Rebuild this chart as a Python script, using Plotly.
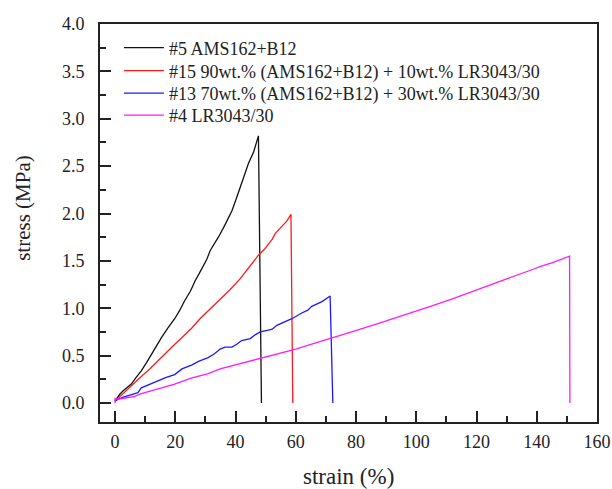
import plotly.graph_objects as go

# ---- data ----
s5_x = [0, 0.4, 1.5, 2.7, 4.0, 5.4, 7.0, 8.7, 10.5, 12.1, 14.0, 15.4, 17.5, 19.8, 21.5, 23.1, 25.0, 26.6,
        28.5, 30.5, 31.6, 33.0, 34.3, 36.5, 38.8, 40.5, 42.6, 44.3, 46.0, 47.6, 48.6]
s5_y = [0.02, 0.04, 0.09, 0.13, 0.16, 0.20, 0.27, 0.34, 0.43, 0.52, 0.62, 0.69, 0.79, 0.89, 0.98, 1.08, 1.18, 1.29,
        1.40, 1.52, 1.61, 1.68, 1.75, 1.88, 2.03, 2.18, 2.38, 2.53, 2.65, 2.82, 0.0]

s15_x = [0, 1.0, 2.1, 4.3, 6.5, 8.7, 11.5, 14.3, 17.0, 19.5, 22.5, 25.4, 28.2, 30.9, 33.0, 34.9, 38.0, 41.5,
         43.2, 45.5, 47.6, 49.5, 50.9, 52.2, 53.2, 55.4, 57.0, 58.4, 59.0]
s15_y = [0.02, 0.05, 0.09, 0.15, 0.22, 0.28, 0.36, 0.45, 0.54, 0.61, 0.70, 0.79, 0.89, 0.97, 1.04, 1.09, 1.19, 1.31,
         1.38, 1.47, 1.56, 1.62, 1.68, 1.73, 1.79, 1.86, 1.92, 1.99, 0.0]

s13_x = [0, 1.0, 2.5, 4.3, 6.0, 7.6, 8.7, 11.0, 14.3, 17.0, 19.8, 22.2, 25.4, 27.7, 30.9, 33.0, 34.9, 36.5,
         38.8, 40.4, 42.0, 43.2, 44.9, 46.5, 48.2, 50.9, 52.2, 53.7, 56.0, 58.7, 62.0, 64.0, 65.3, 68.7, 71.4, 72.3]
s13_y = [0.02, 0.04, 0.06, 0.08, 0.10, 0.11, 0.16, 0.19, 0.24, 0.27, 0.30, 0.36, 0.40, 0.44, 0.48, 0.52, 0.57, 0.59,
         0.59, 0.62, 0.66, 0.67, 0.68, 0.72, 0.75, 0.77, 0.78, 0.82, 0.85, 0.89, 0.95, 0.98, 1.02, 1.07, 1.13, 0.0]

s4_x = [0, 0, 1, 3, 6.5, 8.7, 14, 19.8, 25, 30.9, 34.9, 41, 48.2, 50.9, 54.8, 60, 65, 71.4, 78, 88, 98,
        104.7, 112, 121.3, 130, 139.5, 141, 145, 150.9, 151.0]
s4_y = [0.0, 0.05, 0.04, 0.05, 0.07, 0.10, 0.15, 0.20, 0.26, 0.31, 0.36, 0.41, 0.47, 0.49, 0.52, 0.57, 0.62, 0.68,
        0.745, 0.845, 0.945, 1.02, 1.10, 1.205, 1.31, 1.42, 1.44, 1.48, 1.55, 0.0]

names = ["#5 AMS162+B12",
         "#15 90wt.% (AMS162+B12) + 10wt.% LR3043/30",
         "#13 70wt.% (AMS162+B12) + 30wt.% LR3043/30",
         "#4 LR3043/30"]
colors = ["#111111", "#ff1a1a", "#1a1aff", "#ff1aff"]
xs = [s5_x, s15_x, s13_x, s4_x]
ys = [s5_y, s15_y, s13_y, s4_y]

x_ticks = [0, 20, 40, 60, 80, 100, 120, 140, 160]
y_ticks = [0.0, 0.5, 1.0, 1.5, 2.0, 2.5, 3.0, 3.5, 4.0]

FONT = "Liberation Serif, Times New Roman, serif"
INK = "#222222"

# one legend box per entry so the row spacing can follow the reference
legend_ids = ["legend", "legend2", "legend3", "legend4"]
legend_rows_y = [0.9397, 0.8819, 0.8254, 0.7701]

fig = go.Figure()
for x, y, n, c, lg in zip(xs, ys, names, colors, legend_ids):
    fig.add_trace(go.Scatter(x=x, y=y, mode="lines", name=n, legend=lg,
                             line=dict(color=c, width=1.3)))

legend_style = dict(x=0.038, xanchor="left", yanchor="middle",
                    bgcolor="rgba(0,0,0,0)", font=dict(size=18, family=FONT, color=INK),
                    itemwidth=40, tracegroupgap=0)

layout_legends = {lg: dict(legend_style, y=yy) for lg, yy in zip(legend_ids, legend_rows_y)}

fig.update_layout(
    width=612, height=489,
    margin=dict(l=100, r=15, t=24, b=67, autoexpand=False),
    paper_bgcolor="white", plot_bgcolor="white",
    font=dict(family=FONT, color=INK, size=18),
    showlegend=True,
    annotations=[
        dict(text="stress (MPa)", xref="paper", yref="paper", x=-0.155, y=0.538,
             xanchor="center", yanchor="middle", textangle=-90, showarrow=False,
             font=dict(size=21, family=FONT, color=INK)),
        dict(text="strain (%)", xref="paper", yref="paper", x=0.499, y=-0.136,
             xanchor="center", yanchor="middle", showarrow=False,
             font=dict(size=23, family=FONT, color=INK)),
    ],
    **layout_legends,
)
fig.update_xaxes(
    range=[-5, 160], tickvals=x_ticks, ticktext=[str(v) for v in x_ticks],
    ticks="inside", ticklen=11, tickwidth=1.5, tickcolor=INK,
    minor=dict(ticks="inside", ticklen=6, tickwidth=1.5, dtick=10, tick0=0, tickcolor=INK),
    showline=True, linecolor=INK, linewidth=2, mirror=True,
    showgrid=False, zeroline=False, automargin=False,
    ticklabelstandoff=2,
    tickfont=dict(size=18, family=FONT, color=INK),
)
fig.update_yaxes(
    range=[-0.2, 4.0], tickvals=y_ticks, ticktext=[f"{v:.1f}" for v in y_ticks],
    ticks="inside", ticklen=11, tickwidth=1.5, tickcolor=INK,
    minor=dict(ticks="inside", ticklen=6, tickwidth=1.5, dtick=0.25, tick0=0, tickcolor=INK),
    showline=True, linecolor=INK, linewidth=2, mirror=True,
    showgrid=False, zeroline=False, automargin=False,
    ticklabelstandoff=10,
    tickfont=dict(size=18, family=FONT, color=INK),
)

fig.write_html("out.html",
               config={"displayModeBar": False},
               post_script="document.body.style.margin='0';document.body.style.overflow='hidden';")
